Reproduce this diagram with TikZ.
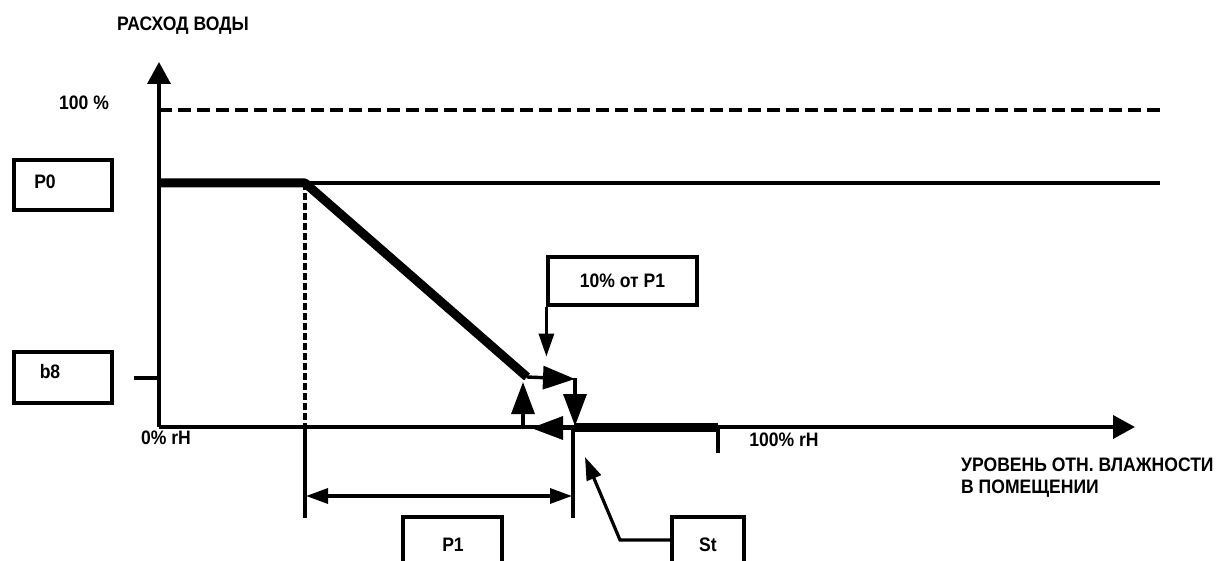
\documentclass[tikz,border=0pt]{standalone}
\usepackage{fontspec}
\setmainfont[FakeStretch=0.9]{Liberation Sans}
\usetikzlibrary{arrows.meta}
\begin{document}
\begin{tikzpicture}[x=1pt,y=-1pt,
  font=\bfseries\fontsize{19.5}{22}\selectfont,
  box/.style={draw, line width=3.2pt, inner sep=0pt},
  lbl/.style={inner sep=0pt},
  thin/.style={line width=3.2pt},
  heavy/.style={line width=9pt},
  axis/.style={line width=3.8pt, -{Triangle[length=22pt,width=23pt]}},
  sq/.style={line width=3.4pt, -{Triangle[length=32pt,width=23pt]}},
  dim/.style={line width=3.2pt, {Triangle[length=22pt,width=15pt]}-{Triangle[length=22pt,width=15pt]}},
  lead/.style={line width=3.2pt, -{Triangle[length=23pt,width=15pt]}}]
\useasboundingbox (0,0) rectangle (1216,561);
\clip (0,0) rectangle (1216,561);
% coordinates
\coordinate (O) at (159,427);
\coordinate (Ytip) at (159,62);
\coordinate (Xtip) at (1135,427);
\coordinate (P0s) at (159,183);
\coordinate (P0k) at (305,183);
\coordinate (P0e) at (1160,183);
\coordinate (Hs) at (159,110);
\coordinate (He) at (1162,110);
\coordinate (D) at (527,377);
\coordinate (Dr) at (575,379);
\coordinate (Sa) at (575,378);
\coordinate (Sb) at (575,426);
\coordinate (Sc) at (531,428);
\coordinate (Sd) at (523,382);
\coordinate (T) at (574,427);
\coordinate (Te) at (718,427);
\coordinate (Tt) at (718,453);
\coordinate (V1b) at (305,518);
\coordinate (V1a) at (305,427);
\coordinate (V2a) at (573,430);
\coordinate (V2b) at (573,518);
\coordinate (Da) at (306,496);
\coordinate (Db) at (572,496);
\coordinate (B8a) at (134,378);
\coordinate (B8b) at (159,378);
\coordinate (Stk) at (620,540);
\coordinate (Stt) at (585,457);
% texts
\node[lbl] (ty) at (183,26) {РАСХОД ВОДЫ};
\node[lbl] (t100) at (84,103) {100 \%};
\node[lbl] (t0) at (166,438) {0\% rH};
\node[lbl] (t100r) at (784,440) {100\% rH};
\node[lbl, align=left, anchor=north west] (tx) at (961,458) {УРОВЕНЬ ОТН. ВЛАЖНОСТИ\\В ПОМЕЩЕНИИ};
% boxes
\node[box, minimum width=98pt, minimum height=50pt] (bP0) at (63,185) {};
\node[lbl] at (45,182) {P0};
\node[box, minimum width=98pt, minimum height=51pt] (bb8) at (63,377.5) {};
\node[lbl] at (50,372) {b8};
\node[box, minimum width=149pt, minimum height=48pt] (b10) at (622.5,281) {10\% от P1};
\node[box, minimum width=99pt, minimum height=60pt] (bP1) at (452.5,547) {};
\node[lbl] at (453,545) {P1};
\node[box, minimum width=72pt, minimum height=60pt] (bSt) at (708,547) {};
\node[lbl] at (708,545) {St};
% axes
\draw[axis] (O) -- (Ytip);
\draw[axis] (O) -- (Xtip);
\draw[thin] (B8a) -- (B8b);
% reference lines
\draw[line width=3.6pt, dash pattern=on 13pt off 6pt] (Hs) -- (He);
\draw[thin] (P0s) -- (P0e);
\draw[line width=3.4pt, dash pattern=on 7pt off 3pt] (P0k) -- (V1a);
\draw[thin] (V1a) -- (V1b);
\draw[thin] (V2a) -- (V2b);
\draw[dim] (Da) -- (Db);
% characteristic
\draw[heavy, line join=round] (P0s) -- (P0k) -- (D);
\draw[heavy] (T) -- (Te);
\draw[thin] (Te) -- (Tt);
% hysteresis square
\draw[sq] (D) -- (Dr);
\draw[sq] (Sa) -- (Sb);
\draw[sq] (577,428) -- (Sc);
\draw[sq] (523,427) -- (Sd);
% leaders
\draw[lead] (b10.south west) -- ++(0,50);
\draw[lead] (bSt.west |- Stk) -- (Stk) -- (Stt);
\end{tikzpicture}
\end{document}
